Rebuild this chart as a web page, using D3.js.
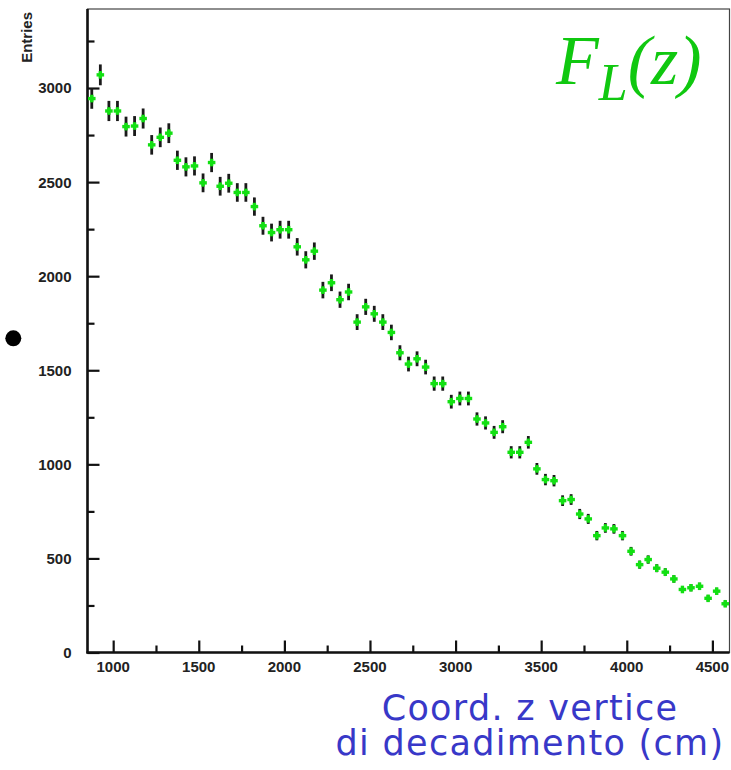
<!DOCTYPE html>
<html>
<head>
<meta charset="utf-8">
<script src="https://cdn.jsdelivr.net/npm/d3@7"></script>
<style>
  body { margin: 0; background: #fff; }
  svg { display: block; }
</style>
</head>
<body>
<script>
var width = 731;
var height = 770;

// bin centres (cm) and entries
var binCenters = d3.range(875, 4600, 50);
var entries = [
    2944, 3070, 2878, 2878, 2795, 2798, 2838, 2698, 2738, 2760,
    2616, 2581, 2586, 2496, 2604, 2478, 2494, 2445, 2445, 2370,
    2268, 2232, 2247, 2247, 2156, 2087, 2133, 1926, 1965, 1875,
    1916, 1756, 1837, 1800, 1756, 1701, 1593, 1533, 1561, 1517,
    1429, 1429, 1333, 1350, 1350, 1241, 1220, 1170, 1200, 1064,
    1064, 1117, 976, 919, 913, 807, 813, 736, 710, 621,
    662, 657, 621, 538, 467, 494, 448, 427, 391, 335,
    344, 352, 288, 326, 259
];
var xTicks = [1000, 1500, 2000, 2500, 3000, 3500, 4000, 4500];
var xMinorTicks = [1250, 1750, 2250, 2750, 3250, 3750, 4250];
var yTicks = [0, 500, 1000, 1500, 2000, 2500, 3000];
var yMinorTicks = [250, 750, 1250, 1750, 2250, 2750, 3250];
var binWidth = 50;

var plotL = 87.5, plotR = 729.5, plotT = 9, plotB = 652.5;

var x = d3.scaleLinear().domain([850, 4600]).range([plotL, plotR]);
var y = d3.scaleLinear().domain([0, 3420]).range([plotB, plotT]);

var svg = d3.select("body").append("svg")
    .attr("width", width)
    .attr("height", height)
    .attr("viewBox", "0 0 " + width + " " + height);

// frame
svg.append("rect")
    .attr("x", plotL).attr("y", plotT)
    .attr("width", plotR - plotL).attr("height", plotB - plotT)
    .attr("fill", "none")
    .attr("stroke", "#444")
    .attr("stroke-width", 1.2);

// axes, ROOT style: ticks inside the frame
var xAxis = svg.append("g").attr("transform", "translate(0," + plotB + ")");
xAxis.call(d3.axisTop(x).tickValues(xTicks).tickSize(12).tickFormat(""));
xAxis.append("g").call(d3.axisTop(x).tickValues(xMinorTicks).tickSize(7).tickFormat(""));
xAxis.selectAll(".domain").remove();
xAxis.selectAll("line").attr("stroke", "#111").attr("stroke-width", 2.2);
xAxis.selectAll(".lbl").data(xTicks).enter().append("text")
    .attr("x", function(d) { return x(d); })
    .attr("y", 19)
    .attr("text-anchor", "middle")
    .attr("font-family", "Liberation Sans, Arial, sans-serif")
    .attr("font-weight", "bold")
    .attr("font-size", 15)
    .attr("fill", "#222")
    .text(function(d) { return d; });

var yAxis = svg.append("g").attr("transform", "translate(" + plotL + ",0)");
yAxis.call(d3.axisRight(y).tickValues(yTicks).tickSize(12).tickFormat(""));
yAxis.append("g").call(d3.axisRight(y).tickValues(yMinorTicks).tickSize(7).tickFormat(""));
yAxis.selectAll(".domain").remove();
yAxis.selectAll("line").attr("stroke", "#111").attr("stroke-width", 2.2);
yAxis.selectAll(".lbl").data(yTicks).enter().append("text")
    .attr("x", -16)
    .attr("y", function(d) { return y(d); })
    .attr("dy", "0.36em")
    .attr("text-anchor", "end")
    .attr("font-family", "Liberation Sans, Arial, sans-serif")
    .attr("font-weight", "bold")
    .attr("font-size", 15)
    .attr("fill", "#222")
    .text(function(d) { return d; });

// axis lines drawn heavier on left and bottom
svg.append("line")
    .attr("x1", plotL).attr("x2", plotL)
    .attr("y1", plotT).attr("y2", plotB + 1)
    .attr("stroke", "#111").attr("stroke-width", 2.6);
svg.append("line")
    .attr("x1", plotL - 1).attr("x2", plotR)
    .attr("y1", plotB).attr("y2", plotB)
    .attr("stroke", "#111").attr("stroke-width", 2.6);

svg.append("text")
    .attr("transform", "translate(32,12) rotate(-90)")
    .attr("text-anchor", "end")
    .attr("font-family", "Liberation Sans, Arial, sans-serif")
    .attr("font-weight", "bold")
    .attr("font-size", 15)
    .attr("fill", "#222")
    .text("Entries");

// data points: black error bar, green cross marker
var pts = svg.append("g");
binCenters.forEach(function(c, i) {
    var v = entries[i];
    var err = Math.sqrt(v);
    var g = pts.append("g");
    g.append("line")
        .attr("x1", x(c)).attr("x2", x(c))
        .attr("y1", y(v + err)).attr("y2", y(v - err))
        .attr("stroke", "#1a1a1a")
        .attr("stroke-width", 2.8);
    g.append("line")
        .attr("x1", x(c - binWidth / 2) + 0.5).attr("x2", x(c + binWidth / 2) - 0.5)
        .attr("y1", y(v)).attr("y2", y(v))
        .attr("stroke", "#12e012")
        .attr("stroke-width", 3.4);
    g.append("line")
        .attr("x1", x(c)).attr("x2", x(c))
        .attr("y1", y(v) - 3.8).attr("y2", y(v) + 3.8)
        .attr("stroke", "#12e012")
        .attr("stroke-width", 3.4);
});

// title
var title = svg.append("text")
    .attr("x", 556)
    .attr("y", 84)
    .attr("font-family", "Liberation Serif, Times New Roman, serif")
    .attr("font-style", "italic")
    .attr("font-size", 70)
    .attr("fill", "#10c810");
title.append("tspan").text("F");
title.append("tspan").attr("font-size", 52).attr("dy", 16).text("L");
title.append("tspan").attr("dy", -16).text("(z)");

// bullet from the slide
svg.append("circle")
    .attr("cx", 13.3).attr("cy", 338.3).attr("r", 8)
    .attr("fill", "#000");

// x axis caption
var cap = svg.append("text")
    .attr("text-anchor", "middle")
    .attr("font-family", "DejaVu Sans, Verdana, sans-serif")
    .attr("font-size", 35)
    .attr("letter-spacing", 1.3)
    .attr("fill", "#3838c8");
cap.append("tspan").attr("x", 530).attr("y", 720).text("Coord. z vertice");
cap.append("tspan").attr("x", 530).attr("y", 755).text("di decadimento (cm)");
</script>
</body>
</html>
